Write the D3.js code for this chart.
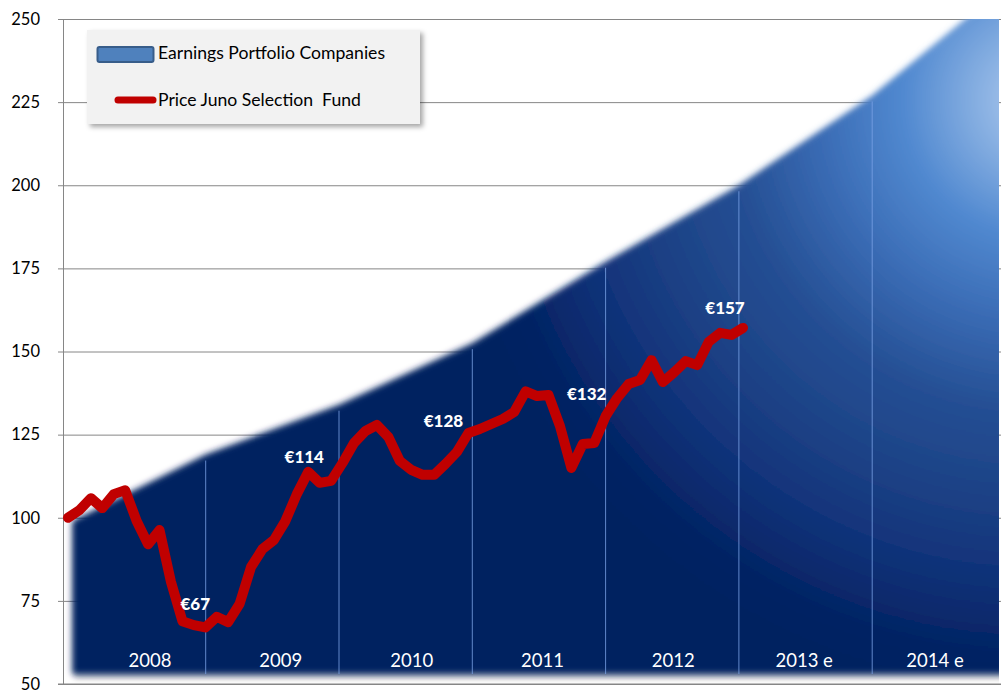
<!DOCTYPE html>
<html><head><meta charset="utf-8">
<script src="https://cdn.jsdelivr.net/npm/d3@7"></script>
<style>html,body{margin:0;padding:0;background:#fff;} svg{display:block;font-family:Lato,"Open Sans",sans-serif;}</style>
</head><body><svg id="chart" width="1001" height="693"></svg>
<script>
// ---- data ----
const yTicks = [50, 75, 100, 125, 150, 175, 200, 225, 250];
const years = ["2008", "2009", "2010", "2011", "2012", "2013 e", "2014 e"];
// earnings index at year boundaries: start 2008, end 2008 ... end 2014
const earnings = [99, 119, 134, 152.5, 177, 200, 227, 260];
// monthly fund price, Jan 2008 .. Dec 2012
const price = [100.0,102.3,105.9,102.9,107.1,108.3,99.0,92.0,96.3,80.7,
               68.9,67.7,67.0,70.2,68.6,74.1,85.2,90.6,93.3,99.0,
               107.1,113.8,110.5,111.1,116.5,122.5,126.1,127.9,124.3,117.1,
               114.4,112.9,112.9,116.2,119.8,125.5,126.7,128.2,129.7,131.8,
               138.0,136.6,136.9,127.6,115.0,122.2,122.5,130.6,136.0,140.2,
               141.4,147.4,140.8,143.8,147.1,145.9,152.9,155.6,155.0,157.1];
const priceLabels = ["€67", "€114", "€128", "€132", "€157"];
const priceLabelMonths = [12, 21, 35, 47, 59];
const legendLabels = ["Earnings Portfolio Companies", "Price Juno Selection  Fund"];

// ---- layout ----
const svg = d3.select("#chart");
const plot = {left: 63, top: 19, right: 1001, bottom: 684};

const y = d3.scaleLinear().domain([50, 250]).range([plot.bottom, plot.top]);
const xArea = d3.scaleLinear().domain([0, 7]).range([72.4, 1005.5]);
const xLine = d3.scaleLinear().domain([0, price.length - 1]).range([68, 743]);
const xYear = d3.scalePoint().domain(years).range([150, 935]);

const defs = svg.append("defs");
const grad = defs.append("radialGradient").attr("id", "areaGrad")
  .attr("gradientUnits", "userSpaceOnUse")
  .attr("cx", 1040).attr("cy", 100).attr("r", 620).attr("fx", 1040).attr("fy", 100);
[[0, "#b3cdee"], [0.12, "#7ea9df"], [0.22, "#5189d0"], [0.35, "#3b6db6"], [0.5, "#254f94"],
 [0.65, "#1c4185"], [0.76, "#11337a"], [0.9, "#032363"], [1, "#002060"]]
  .forEach(([o, c]) => grad.append("stop").attr("offset", o).attr("stop-color", c));

const f = defs.append("filter").attr("id", "soft")
  .attr("x", "-5%").attr("y", "-5%").attr("width", "110%").attr("height", "110%");
f.append("feGaussianBlur").attr("in", "SourceAlpha").attr("stdDeviation", 3).attr("result", "sb");
f.append("feOffset").attr("in", "sb").attr("dx", 2).attr("dy", 4).attr("result", "so");
f.append("feFlood").attr("flood-color", "#000").attr("flood-opacity", 0.3).attr("result", "fl");
f.append("feComposite").attr("in", "fl").attr("in2", "so").attr("operator", "in").attr("result", "shadow");
f.append("feGaussianBlur").attr("in", "SourceGraphic").attr("stdDeviation", 3).attr("result", "blur");
const fm = f.append("feMerge");
fm.append("feMergeNode").attr("in", "shadow");
fm.append("feMergeNode").attr("in", "blur");

const lf = defs.append("filter").attr("id", "legShadow")
  .attr("x", "-10%").attr("y", "-20%").attr("width", "120%").attr("height", "140%");
lf.append("feDropShadow").attr("dx", 3).attr("dy", 3).attr("stdDeviation", 2.5)
  .attr("flood-color", "#000").attr("flood-opacity", 0.35);

defs.append("clipPath").attr("id", "plotClip").append("rect")
  .attr("x", plot.left).attr("y", plot.top).attr("width", 999 - plot.left).attr("height", plot.bottom - plot.top);

// gridlines
const grid = svg.append("g").attr("transform", `translate(${plot.left},0)`)
  .call(d3.axisLeft(y).tickValues(yTicks).tickSize(-(plot.right - plot.left)).tickFormat(""));
grid.select(".domain").remove();
grid.selectAll("line").attr("stroke", "#868686").attr("stroke-width", 1);

// y axis ticks + labels
const ax = svg.append("g").attr("transform", `translate(${plot.left},0)`)
  .call(d3.axisLeft(y).tickValues(yTicks).tickSize(5).tickPadding(18).tickSizeOuter(0));
ax.select(".domain").attr("stroke", "#868686");
ax.selectAll("line").attr("stroke", "#868686");
ax.selectAll("text").attr("font-size", 16.5).attr("fill", "#000").attr("font-family", "Lato");

// x axis line
svg.append("line").attr("x1", plot.left - 5).attr("x2", plot.right)
  .attr("y1", plot.bottom).attr("y2", plot.bottom).attr("stroke", "#868686");

// earnings area
const base = y(50) - 10;
const area = d3.area().x((d, i) => xArea(i)).y0(base).y1(d => y(d));
svg.append("g").attr("clip-path", "url(#plotClip)")
  .append("path").datum(earnings).attr("d", area)
  .attr("fill", "url(#areaGrad)").attr("filter", "url(#soft)");

// year separators
svg.append("g").selectAll("line").data(earnings.slice(1, 7)).join("line")
  .attr("x1", (d, i) => xArea(i + 1)).attr("x2", (d, i) => xArea(i + 1))
  .attr("y1", d => y(d) + 6).attr("y2", base)
  .attr("stroke", "#7aa3e6").attr("stroke-opacity", 0.8).attr("stroke-width", 1);

// year labels
svg.append("g").selectAll("text").data(years).join("text")
  .attr("x", d => xYear(d)).attr("y", 667).attr("text-anchor", "middle")
  .attr("fill", "#fff").attr("font-size", 18.5).text(d => d);

// price line
const line = d3.line().x((d, i) => xLine(i)).y(d => y(d));
svg.append("path").datum(price).attr("d", line)
  .attr("fill", "none").attr("stroke", "#c00000").attr("stroke-width", 10)
  .attr("stroke-linejoin", "round").attr("stroke-linecap", "round");

// price labels
const lblOff = [[-10, -24], [-4, -15], [-25, -12], [-19, -23], [-18, -20]];
svg.append("g").selectAll("text").data(priceLabels).join("text")
  .attr("x", (d, i) => xLine(priceLabelMonths[i]) + lblOff[i][0])
  .attr("y", (d, i) => y(price[priceLabelMonths[i]]) + lblOff[i][1])
  .attr("text-anchor", "middle").attr("dominant-baseline", "central")
  .attr("fill", "#fff").attr("font-weight", 900).attr("font-size", 17).text(d => d);

// legend
const lg = svg.append("g");
lg.append("rect").attr("x", 87).attr("y", 30).attr("width", 333).attr("height", 94)
  .attr("fill", "#f2f2f2").attr("filter", "url(#legShadow)");
lg.append("rect").attr("x", 97.5).attr("y", 47).attr("width", 56).attr("height", 15).attr("rx", 2)
  .attr("fill", "#4f81bd").attr("stroke", "#385d8a").attr("stroke-width", 2);
lg.append("line").attr("x1", 118).attr("x2", 153).attr("y1", 100).attr("y2", 100)
  .attr("stroke", "#c00000").attr("stroke-width", 7).attr("stroke-linecap", "round");
lg.selectAll("text.lt").data(legendLabels).join("text").attr("class", "lt")
  .attr("x", 158).attr("y", (d, i) => i === 0 ? 59 : 106)
  .attr("font-size", 17.6).attr("fill", "#000").style("white-space", "pre").text(d => d);
</script></body></html>
